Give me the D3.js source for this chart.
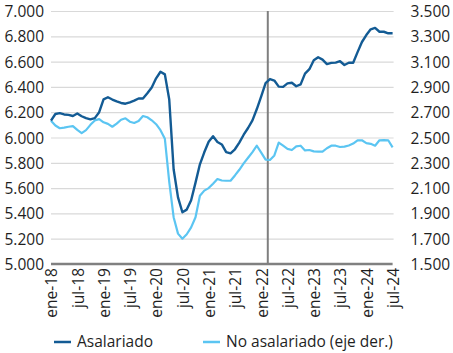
<!DOCTYPE html>
<html>
<head>
<meta charset="utf-8">
<title>Asalariado / No asalariado</title>
<style>
  body { margin: 0; background: #fff; }
  text { font-family: "Open Sans", sans-serif; fill: #1f1f1f; }
</style>
</head>
<body>
<script src="https://cdn.jsdelivr.net/npm/d3@7"></script>
<script>
// meses ene-18 .. jul-24
const mesesAbr = ["ene","feb","mar","abr","may","jun","jul","ago","sep","oct","nov","dic"];
const meses = [];
for (let a = 18; a <= 24; a++) {
  for (let m = 0; m < 12; m++) {
    if (a === 24 && m > 6) break;
    meses.push(mesesAbr[m] + "-" + a);
  }
}

// miles de personas (lectura del grafico)
const asalariado = [
  6133, 6186, 6193, 6182, 6179, 6170, 6190, 6168, 6153, 6143, 6153, 6200,
  6301, 6318, 6300, 6285, 6273, 6267, 6278, 6291, 6308, 6308, 6350, 6396,
  6468, 6520, 6499, 6300, 5749, 5527, 5409, 5430, 5504, 5643, 5788, 5883,
  5967, 6010, 5965, 5945, 5885, 5875, 5907, 5960, 6022, 6075, 6135, 6225,
  6325, 6430, 6462, 6450, 6402, 6400, 6428, 6433, 6405, 6420, 6505, 6540,
  6610, 6634, 6616, 6580, 6590, 6592, 6603, 6573, 6591, 6591, 6675, 6755,
  6810, 6855, 6866, 6836, 6836, 6824, 6824
];
const noAsalariado = [
  2633, 2595, 2573, 2578, 2585, 2590, 2560, 2535, 2558, 2600, 2635, 2645,
  2620, 2608, 2585, 2610, 2640, 2652, 2625, 2615, 2630, 2670, 2660, 2636,
  2605, 2558, 2490, 2150, 1870, 1740, 1700, 1735, 1790, 1870, 2040, 2080,
  2100, 2135, 2172, 2160, 2158, 2158, 2200, 2245, 2295, 2340, 2385, 2435,
  2380, 2325, 2322, 2358, 2460, 2435, 2410, 2401, 2430, 2435, 2398, 2401,
  2390, 2388, 2388, 2415, 2435, 2435, 2425, 2428, 2437, 2452, 2478, 2478,
  2456, 2450, 2435, 2478, 2480, 2478, 2422
];

const ticksIzq = [5000, 5200, 5400, 5600, 5800, 6000, 6200, 6400, 6600, 6800, 7000];
const ticksDer = [1500, 1700, 1900, 2100, 2300, 2500, 2700, 2900, 3100, 3300, 3500];
const etiquetasX = meses.filter((d, i) => i % 6 === 0);
const marcaVertical = ["feb-22", "mar-22"];
const series = ["Asalariado", "No asalariado (eje der.)"];
const colores = ["#135b94", "#5bc5f2"];

const width = 453, height = 353;
const mLeft = 51, mRight = 392.6, mTop = 11, mBottom = 264;
const fs = "15.5px";

const locale = d3.formatLocale({ decimal: ",", thousands: ".", grouping: [3], currency: ["$", ""] });
const fmt = locale.format(",.0f");

const svg = d3.select("body").append("svg")
  .attr("width", width)
  .attr("height", height);

const x = d3.scalePoint().domain(meses).range([mLeft, mRight]);
const yL = d3.scaleLinear().domain([5000, 7000]).range([mBottom, mTop]);
const yR = d3.scaleLinear().domain([1500, 3500]).range([mBottom, mTop]);

// grid
svg.append("g")
  .attr("transform", "translate(" + mLeft + ",0)")
  .call(d3.axisRight(yL).tickValues(ticksIzq.slice(1)).tickSize(mRight - mLeft + 1).tickFormat(""))
  .call(g => g.select(".domain").remove())
  .call(g => g.selectAll("line").attr("stroke", "#d9d9d9").attr("stroke-width", 1.2));

// left axis
svg.append("g")
  .attr("transform", "translate(" + (mLeft - 7) + ",0)")
  .call(d3.axisLeft(yL).tickValues(ticksIzq).tickSize(0).tickPadding(0).tickFormat(fmt))
  .call(g => g.select(".domain").remove())
  .call(g => g.selectAll("text").style("font-size", fs).attr("dy", "0.36em").attr("fill", "#1f1f1f"));

// right axis
svg.append("g")
  .attr("transform", "translate(" + (mRight + 18) + ",0)")
  .call(d3.axisRight(yR).tickValues(ticksDer).tickSize(0).tickPadding(0).tickFormat(fmt))
  .call(g => g.select(".domain").remove())
  .call(g => g.selectAll("text").style("font-size", fs).attr("dy", "0.36em").attr("fill", "#1f1f1f"));

// bottom axis
svg.append("g")
  .attr("transform", "translate(0," + mBottom + ")")
  .call(d3.axisBottom(x).tickValues(etiquetasX).tickSize(0).tickPadding(0))
  .call(g => g.select(".domain").attr("stroke", "#808080").attr("stroke-width", 2.5)
    .attr("d", "M" + mLeft + ",0H" + mRight))
  .call(g => g.selectAll("text")
    .style("font-size", fs)
    .attr("fill", "#1f1f1f")
    .attr("text-anchor", "end")
    .attr("transform", "rotate(-90)")
    .attr("x", -4)
    .attr("y", 0)
    .attr("dx", 0)
    .attr("dy", "0.38em"));

// vertical line
const xv = (x(marcaVertical[0]) + x(marcaVertical[1])) / 2;
svg.append("line")
  .attr("x1", xv).attr("x2", xv)
  .attr("y1", mTop).attr("y2", mBottom)
  .attr("stroke", "#7f7f7f")
  .attr("stroke-width", 2);

// lines
const lineL = d3.line().x((d, i) => x(meses[i])).y(d => yL(d));
const lineR = d3.line().x((d, i) => x(meses[i])).y(d => yR(d));

svg.append("path")
  .datum(noAsalariado)
  .attr("d", lineR)
  .attr("fill", "none")
  .attr("stroke", colores[1])
  .attr("stroke-width", 2.2)
  .attr("stroke-linejoin", "round");

svg.append("path")
  .datum(asalariado)
  .attr("d", lineL)
  .attr("fill", "none")
  .attr("stroke", colores[0])
  .attr("stroke-width", 2.4)
  .attr("stroke-linejoin", "round");

// legend
const leg = svg.append("g").attr("transform", "translate(0,342)");
const legX = [54, 203];
series.forEach((s, i) => {
  leg.append("line")
    .attr("x1", legX[i]).attr("x2", legX[i] + 17)
    .attr("y1", 0).attr("y2", 0)
    .attr("stroke", colores[i])
    .attr("stroke-width", 2.5);
  leg.append("text")
    .attr("x", legX[i] + 23)
    .attr("y", 0)
    .attr("dy", "0.35em")
    .style("font-size", fs)
    .text(s);
});
</script>
</body>
</html>
